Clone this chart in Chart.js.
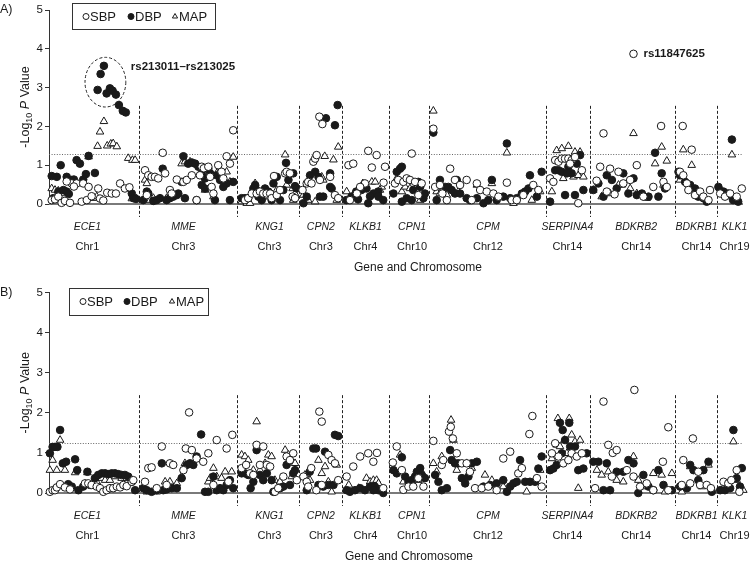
<!DOCTYPE html>
<html><head><meta charset="utf-8">
<script src="https://cdn.jsdelivr.net/npm/chart.js@4/dist/chart.umd.min.js"></script>
<style>
html,body{margin:0;padding:0;background:#fff;}
#wrap{position:relative;width:753px;height:565px;overflow:hidden;}
canvas{position:absolute;left:0;}
</style></head><body>
<div id="wrap">
<canvas id="cA" width="753" height="283" style="top:0"></canvas>
<canvas id="cB" width="753" height="282" style="top:283px"></canvas>
</div>
<script>
// ---------- categories ----------
const genes = ["ECE1","MME","KNG1","CPN2","KLKB1","CPN1","CPM","SERPINA4","BDKRB2","BDKRB1","KLK1"];
const chromosomes = ["Chr1","Chr3","Chr3","Chr3","Chr4","Chr10","Chr12","Chr14","Chr14","Chr14","Chr19"];
// SNP-index where each gene label sits, and boundaries between genes (SNP index)
const geneLabelAt = [12.8,44.8,73.5,90.6,105.5,121,146.3,172.8,195.7,215.8,228.5];
const geneBounds = [30,62.7,83.3,97.7,113.3,126.8,165.6,180.4,208.7,222.5];
const snpMax = 231.3;
const yTicks = [0,1,2,3,4,5];
const seriesNames = ["SBP","DBP","MAP"];
const thresholdA = 1.3, thresholdB = 1.25;

// ---------- Panel A: [SNP index, -log10 P] ----------
const sbpA = [[0.9,0.10],[2,0.12],[3.1,0.19],[4.2,0.03],[5.3,0.08],[7,0.03],[7.6,0.53],[9.2,0.53],[11.4,0.53],[13.2,0.44],[10.9,0.06],[12.6,0.10],[14.2,0.20],[16.4,0.40],[17,0.14],[18.1,0.09],[19.4,0.29],[20.9,0.27],[22.3,0.27],[23.7,0.53],[25.3,0.40],[26.8,0.43],[5.9,0.58],[8.3,0.45],
[32,0.87],[33.1,0.74],[34.2,0.70],[35.3,0.70],[36.4,0.66],[37.9,1.32],[38.7,0.79],[40.3,0.36],[40.9,0.27],[42.6,0.63],[44.8,0.57],[45.9,0.62],[47.6,0.74],[49.2,0.10],[50.3,0.74],[50.9,0.96],[51.6,0.92],[53.1,0.96],[53.7,0.70],[54.2,0.44],[54.8,0.27],[56.4,1.0],[57.5,0.83],[58.1,0.66],[59.2,1.23],[60.3,1.04],[61.4,1.90],[32.6,0.23],
[65.3,0.10],[66.4,0.15],[67.6,0.27],[69.2,0.27],[70.3,0.32],[71.4,0.27],[72.5,0.27],[73.7,0.27],[74.2,0.15],[75,0.72],[75.9,0.23],[77,0.36],[78.7,0.79],[79.2,0.83],[80.3,0.79],[81.2,0.19],[82,0.15],
[90.1,2.25],[91.1,2.06],[85.9,0.53],[86.4,0.57],[87.5,0.53],[88.1,1.09],[88.7,1.17],[89.2,1.26],[93.7,0.70],[95.3,0.23],[96.4,0.15],[90.3,0.62],[84.5,0.36],
[99.8,1.0],[101.4,1.04],[106.4,1.37],[109.2,1.26],[107.6,0.94],[105.3,0.53],[103.7,0.44],[102.6,0.27],[100.3,0.10],[112,0.96],[111.5,0.55],
[115.3,0.53],[116.4,0.62],[118.1,0.57],[119.2,0.66],[120.3,0.62],[120.9,1.30],[122,0.57],[123.1,0.23],[124.2,0.53],
[128.1,1.94],[128.7,0.44],[130.3,0.49],[131.1,0.27],[132.6,0.10],[133.7,0.91],[135.3,0.62],[137,0.49],[139.2,0.62],[140.9,0.10],[142.6,0.53],[143.7,0.36],[145.9,0.32],[148.1,0.27],[149.8,0.19],[152.6,0.55],[154.2,0.10],[155.9,0.10],[158.1,0.23],[161.4,0.49],[163.1,0.36],
[167,0.66],[168.1,0.57],[168.7,1.13],[169.8,1.09],[170.9,1.17],[172,1.17],[173.1,1.17],[174.2,1.13],[175.3,1.21],[176.4,0.02],[177.6,0.87],[173.7,1.04],
[184.8,1.82],[194.8,3.87],[204,2.01],[183.7,0.96],[187,0.91],[189.8,0.83],[195.9,1.0],[185.9,0.32],[191.4,0.53],[193.7,0.62],[198.1,0.19],[201.4,0.44],[204.8,0.57],[205.9,0.44],[182.5,0.60],[188.5,0.25],
[211.2,2.01],[214.2,1.40],[210.3,0.83],[211.4,0.74],[212.6,0.53],[213.1,0.36],[215.3,0.23],[217,0.32],[218.1,0.19],[219.8,0.10],[220.3,0.36],
[223.7,0.27],[225.3,0.19],[227,0.27],[229.2,0.19],[230.9,0.40]];

const dbpA = [[0.9,0.72],[2.6,0.70],[3.9,1.0],[5.9,0.70],[7.6,0.62],[8.3,0.63],[9.2,1.13],[10.3,1.04],[11.4,0.63],[12.3,0.77],[13.2,1.24],[15.3,0.80],[5.9,0.32],[3.1,0.32],[1.4,0.15],[4.8,0.36],[6.6,0.26],[16.2,2.94],[17.2,3.35],[18.3,3.56],[19.2,2.85],[20.3,2.98],[21.2,2.92],[22.3,2.82],[23.3,2.55],[24.6,2.40],[25.6,2.36],[27.6,0.27],[28.1,0.15],[29,0.13],
[31.4,0.10],[32.6,0.32],[33.1,0.27],[34.8,0.08],[35.9,0.10],[37,0.15],[37.9,0.91],[39.2,0.10],[40.3,0.15],[41.4,0.19],[42.6,0.23],[43.1,0.27],[44.2,0.57],[44.8,1.23],[45.3,0.15],[46.4,1.04],[47.6,1.07],[48.7,1.04],[49.2,0.10],[49.8,0.96],[50.9,0.79],[52,0.66],[53.1,0.91],[53.7,0.79],[55.3,0.10],[55.9,0.74],[57,0.62],[58.1,0.44],[59.2,0.53],[60.3,0.10],[61.4,0.57],[50.9,0.49],[52,0.40],
[64.2,0.15],[65.3,0.15],[66.4,0.15],[68.7,0.49],[69.8,0.19],[70.9,0.10],[72,0.40],[73.1,0.32],[74.2,0.10],[74.8,0.53],[75.9,0.70],[77,0.10],[78.1,0.36],[79,1.06],[79.8,0.62],[81.4,0.79],[82,0.46],[82.6,0.40],[69.2,0.36],[68.1,0.40],
[84.8,0.02],[85.9,0.19],[87,0.74],[88.7,0.83],[89.8,0.70],[90.3,0.19],[91.4,0.19],[93.7,0.44],[94.2,0.40],[93.7,0.79],[92.3,2.21],[95.3,2.03],[96.2,2.55],
[99.1,0.10],[100.8,0.19],[102.4,0.32],[104.1,0.36],[105.8,0.40],[106.4,0.02],[108.1,0.27],[109.7,0.32],[109.8,0.19],[111.4,0.10],[103,0.12],[107,0.20],
[115.9,0.83],[117,0.91],[117.6,0.96],[114.8,0.27],[117.6,0.06],[119.2,0.15],[120.9,0.10],[121.4,0.36],[123.1,0.57],[123.7,0.44],[124.8,0.15],[125.3,0.27],
[128.1,1.84],[129.2,0.10],[130.3,0.62],[132,0.44],[133.1,0.44],[134.2,0.36],[135.3,0.27],[135.9,0.62],[137,0.27],[139.2,0.15],[140.3,0.10],[142.6,0.15],[144.8,0.02],[146.4,0.10],[147.6,0.62],[149.2,0.10],[151.4,0.19],[152.6,1.56],[153.7,0.15],[155.9,0.15],[157.6,0.27],[158.7,0.32],[159.8,0.40],[160.3,0.74],[162.6,0.19],[164.2,0.83],
[167,0.06],[168.7,0.87],[169.8,0.87],[170.9,0.83],[172,0.23],[173.1,0.96],[174.2,0.79],[175.3,0.23],[175.9,1.04],[177,1.26],[178.1,0.36],[172.6,0.79],
[181.4,0.36],[183.1,0.53],[184.8,0.19],[185.9,0.74],[187.6,0.62],[189.2,0.40],[191.4,0.79],[193.1,0.27],[194.8,0.66],[195.9,0.23],[197.6,0.27],[199.8,0.19],[202,1.32],[203.1,0.19],[204.2,0.79],[205.3,0.40],
[209.8,0.83],[210.3,0.74],[212,0.57],[213.7,0.49],[215.3,0.40],[216.4,0.19],[218.1,0.15],[219.2,0.06],
[227.6,1.66],[223.1,0.44],[224.8,0.32],[226.3,0.27],[228,0.10],[229.7,0.06]];

const mapA = [[0.9,0.40],[2,0.36],[3.1,0.34],[5.3,0.27],[14.8,0.15],[15.9,0.19],[16.2,1.49],[17,1.86],[18.3,2.13],[19.4,1.50],[20.6,1.55],[21.4,1.56],[22.6,1.48],[26.4,1.18],[27.8,1.13],[28.7,1.13],[27.6,0.14],[29.2,0.14],[13.2,1.22],
[32,0.62],[32.6,0.53],[33.7,0.10],[34.8,0.15],[39.2,0.15],[44.2,1.04],[45.3,1.09],[47,1.09],[54.8,0.19],[55.9,0.79],[57.5,0.70],[59.2,0.83],[60.3,0.57],[61.4,1.21],[52,0.36],
[64.2,0.06],[65.9,0.02],[67,0.02],[68.7,0.53],[71.4,0.19],[72.5,0.19],[75.9,0.36],[78.7,1.27],[79.2,0.49],[81.2,0.40],[82,0.27],[81.4,0.10],
[84.8,0.23],[86.4,0.10],[88.7,0.06],[91.4,0.62],[91.9,1.23],[94.8,1.14],[96.4,1.47],[95.9,0.10],[90.9,0.70],
[99.2,0.32],[101.4,0.23],[104.6,0.53],[107.6,0.57],[108.7,0.57],[110.9,0.44],[110.3,0.36],
[117.6,0.32],[118.7,0.44],[120.3,0.40],[123.7,0.10],[115.9,0.66],
[128.1,2.40],[129.2,0.32],[130.3,0.27],[132.6,0.23],[136.4,0.32],[142.6,0.49],[147.6,0.53],[152.6,1.32],[154.8,0.02],[160.9,0.10],[163.7,0.32],
[167.6,0.32],[169.2,1.38],[170.9,1.43],[173.1,1.49],[171.4,0.66],[174.8,0.70],[176.4,0.74],[178.1,0.70],[175.3,1.34],[177,1.34],
[194.8,1.82],[181.4,0.36],[184.2,0.19],[187,0.27],[189.8,0.49],[190.9,0.49],[193.7,0.40],[195.9,0.27],[199.2,0.15],[202,1.04],[204.2,1.47],[205.9,1.11],[204.8,0.49],
[210.3,0.62],[214.2,1.0],[211.4,1.40],[217,0.27],
[227.6,1.27],[223.7,0.40],[225.8,0.19],[228.6,0.15]];

// ---------- Panel B ----------
const sbpB = [[0.3,0.03],[1.2,0.07],[2,0.07],[2.6,0.14],[3.7,0.22],[5.3,0.14],[7,0.09],[12,0.24],[13.1,0.24],[14.2,0.20],[15.9,0.16],[17,0.12],[18.1,0.03],[19.2,0.07],[20.3,0.12],[21.4,0.12],[22.6,0.16],[23.7,0.14],[24.8,0.20],[25.9,0.17],[27.6,0.28],[28.1,0.32],
[32,0.28],[33.1,0.62],[34.2,0.64],[37.6,1.16],[40.3,0.74],[41.4,0.70],[44.8,0.57],[46.7,2.01],[45.6,1.11],[47.6,1.07],[49.2,0.86],[51.4,0.78],[53.1,0.99],[55.9,1.32],[59.2,1.11],[61.1,1.45],[54.8,0.20],[59.8,0.28],[35.9,0.12],[39.2,0.20],
[64.2,0.62],[65.7,0.70],[67,0.49],[69.2,1.20],[71.4,1.16],[70.3,0.70],[72.6,0.70],[73.7,0.66],[75.3,0.03],[76.4,0.12],[78.1,0.41],[79.2,0.91],[80.3,0.82],[81.4,0.99],[82.6,0.32],[68.1,0.45],
[90.1,2.03],[90.9,1.78],[84.8,0.41],[85.9,0.28],[87.4,0.62],[89.1,0.07],[90.9,0.20],[93.1,0.95],[94.2,0.82],[95.3,0.74],[96.4,0.32],[86.4,0.16],
[99.2,0.41],[101.4,0.66],[103.7,0.91],[106.4,0.99],[108.1,0.78],[109.3,1.0],[111.4,0.12],
[114.6,0.76],[115.9,1.16],[118.1,0.08],[119.8,0.16],[121.4,0.16],[123.1,0.37],[124.8,0.16],[117.6,0.57],
[128.1,1.30],[130.9,0.70],[131.4,0.82],[133.3,1.53],[133.9,1.65],[134.6,1.36],[135.9,0.99],[137.6,0.74],[139.2,0.74],[140.3,0.53],[142,0.12],[144.2,0.12],[146.4,0.16],[149.2,0.07],[151.4,0.86],[153.7,1.03],[156.4,0.49],[157.6,0.62],[160.1,1.47],[161.1,1.92],[162.6,0.37],[164.2,0.16],
[168.7,1.24],[169.8,0.91],[171.4,0.74],[173.1,0.82],[174.2,0.99],[175.9,0.91],[177.6,0.99],[167.6,0.99],
[184.8,2.28],[195.1,2.57],[206.4,1.64],[182,0.12],[186.4,1.20],[187.9,1.0],[189.2,1.07],[192.6,0.57],[194.8,0.41],[197,0.16],[199.2,0.24],[201.4,0.07],[204.6,0.78],[206.4,0.07],[187.6,0.41],
[211.4,0.82],[214.6,1.36],[210.9,0.20],[213.7,0.24],[217,0.20],[219.2,0.20],[220.6,0.12],[216.4,0.53],
[224.8,0.28],[226.4,0.24],[229.2,0.57],[230.1,0.03],[227.4,0.32]];

const dbpB = [[0.3,0.99],[1.2,1.15],[2,1.15],[2.8,1.15],[3.7,1.57],[4.6,0.74],[5.7,0.78],[8.7,0.84],[9.4,0.57],[12.8,0.53],[6.4,0.22],[7.6,0.16],[9.8,0.07],[11.4,0.16],[13.7,0.20],[15.3,0.37],[16.4,0.45],[17.6,0.49],[18.7,0.49],[19.8,0.47],[20.9,0.49],[22,0.49],[23.1,0.47],[24.2,0.45],[25.3,0.45],[26.4,0.41],[27.6,0.28],[28.7,0.07],
[31.4,0.12],[32.6,0.07],[34.2,0.03],[35.9,0.07],[37.6,0.74],[38.1,0.07],[39.2,0.09],[40.9,0.12],[42.6,0.12],[44.2,0.37],[45.9,0.70],[47,0.74],[48.1,0.70],[49.2,0.91],[50.7,1.46],[52,0.03],[53.1,0.03],[54.8,0.41],[55.9,0.07],[57,0.12],[58.1,0.07],[59.2,0.20],[60.3,0.32],[61.4,0.12],
[64.2,0.49],[65.3,0.49],[66.4,0.45],[67.2,0.12],[68.1,0.28],[69.2,1.07],[70.3,0.45],[71.4,0.32],[72.6,0.49],[74.2,0.32],[74.8,0.03],[77,0.12],[78.1,0.16],[79.2,0.70],[80.3,0.20],[81.4,0.49],[82,0.57],
[86.9,0.53],[88.1,1.11],[89,1.11],[89.8,0.20],[91.4,0.16],[92,1.03],[93.1,0.20],[94.8,0.20],[95.3,1.45],[96.4,1.42],[85.9,0.07],
[99.2,0.07],[100.3,0.03],[102,0.07],[103.7,0.12],[105.3,0.07],[107,0.16],[108.6,0.16],[109.8,0.07],[108.1,0.07],[111.4,0.0],
[114.8,0.57],[115.9,0.49],[117.6,0.89],[118.7,0.41],[119.8,0.28],[120.9,0.32],[122,0.41],[122.6,0.53],[123.7,0.62],[124.2,0.45],[125.3,0.37],
[128.7,0.45],[129.8,0.28],[130.9,0.07],[132.6,0.12],[133.7,1.07],[134.2,0.82],[135.3,0.74],[136.4,0.74],[137.6,0.37],[138.7,0.24],[139.8,0.41],[140.9,0.74],[142.6,0.78],[144.8,0.16],[147,0.20],[149.2,0.24],[151.4,0.32],[152.6,0.03],[153.7,0.16],[154.8,0.24],[155.9,0.28],[157,0.82],[158.7,0.28],[160.3,0.28],[162,0.28],[163.1,0.61],[164.2,0.91],
[170.3,1.75],[171.2,1.57],[173.4,1.75],[172,1.32],[173.7,1.16],[167,0.57],[168.1,0.61],[169.2,0.70],[170.9,0.99],[175.3,1.16],[176.4,0.57],[178.1,0.61],[179.2,0.99],
[181.4,0.78],[183.1,0.78],[185.9,0.74],[184.8,0.07],[187,0.07],[189.2,0.53],[191.4,0.53],[193.1,0.82],[194.8,0.74],[196.4,0.0],[198.1,0.45],[199.8,0.16],[201.4,0.07],[203.1,0.57],[204.8,0.20],[207.6,0.07],
[213.7,0.70],[214.8,0.57],[216.4,0.32],[218.1,0.57],[219.8,0.78],[210.3,0.16],[212.6,0.12],[220.9,0.03],
[228.1,1.57],[230.9,0.62],[223.7,0.07],[225.3,0.07],[227,0.12],[229.2,0.37],[230.3,0.16]];

const mapB = [[0.3,0.57],[1.2,0.82],[3.7,1.32],[2.6,0.57],[5.3,0.57],[8.7,0.51],[12.8,0.51],[15.9,0.28],[17.6,0.37],[18.7,0.32],[20.3,0.32],[22,0.41],[24.2,0.37],[25.9,0.37],[27.6,0.32],
[32.6,0.03],[35.9,0.03],[38.7,0.28],[40.3,0.28],[42.6,0.24],[44.2,0.41],[45.3,0.74],[47.6,0.70],[53.1,0.28],[53.7,0.37],[54.8,0.62],[55.9,0.41],[57.5,0.37],[58.7,0.53],[60.9,0.53],
[69.2,1.78],[64.2,0.95],[65.3,0.91],[66.4,0.82],[68.1,0.57],[70.3,0.57],[72,0.74],[73.1,0.95],[74.2,0.91],[75.3,0.32],[77,0.28],[78.7,1.07],[79.8,0.95],[80.9,0.41],[82,0.74],
[85.3,0.45],[87,0.32],[89.8,0.82],[90.9,0.49],[92,0.66],[93.1,0.28],[95.9,0.70],[94.2,0.03],
[99.9,0.20],[103.2,0.12],[105.8,0.37],[107,0.28],[108.1,0.32],[109.2,0.32],[109.8,0.24],
[117,0.95],[118.1,0.28],[120.3,0.24],[123.1,0.32],[124.8,0.45],
[128.1,0.74],[129.2,0.53],[130.9,0.91],[134,1.82],[134.8,1.32],[135.9,0.57],[139.2,0.74],[140.9,0.62],[145.3,0.45],[147.6,0.32],[151.4,0.16],[159.2,0.03],[163.7,0.57],
[169.6,1.86],[173.4,1.86],[171.8,1.32],[174.2,1.45],[175.3,1.28],[177,1.32],[167.6,0.86],[169.2,1.20],[170.3,1.16],[176.4,0.12],[172.6,0.99],
[182.6,0.57],[184.2,0.45],[186.4,0.53],[189.2,0.32],[191.4,0.28],[194.8,0.91],[196.4,0.32],[199.2,0.16],[201.4,0.49],[204.2,0.45],[205.3,0.03],[207.6,0.49],
[210.9,0.03],[213.7,0.66],[219.8,0.70],[217.6,0.16],
[228.1,1.28],[224.1,0.07],[225.8,0.24],[229.2,0.32],[231.4,0.07]];

// annotations (data coordinates)
const clusterLabel = "rs213011\u2013rs213025";
const clusterCenter = [18.8, 3.14];
const clusterRadius = [6.8, 0.64];
const snpLabel = "rs11847625";
const snpLabelAt = [194.8, 3.87];

// ---------- drawing ----------
const FONT = "'Liberation Sans', Arial, Helvetica, sans-serif";
const INK = "#1a1a1a";
const styles = [
  {pointStyle:'circle', backgroundColor:'#ffffff', borderColor:INK, radius:3.8},
  {pointStyle:'circle', backgroundColor:INK, borderColor:INK, radius:3.8},
  {pointStyle:'triangle', backgroundColor:'#ffffff', borderColor:INK, radius:4.4}
];

function toXY(arr){ return arr.map(p => ({x:p[0], y:p[1]})); }

function panelPlugin(cfg){
  return {
    id:'panel'+cfg.letter,
    beforeDatasetsDraw(chart){
      const ctx = chart.ctx, xs = chart.scales.x, ys = chart.scales.y, ca = chart.chartArea;
      ctx.save();
      // threshold dotted line
      ctx.strokeStyle = '#666'; ctx.lineWidth = 1; ctx.setLineDash([1,1.6]);
      const ty = Math.round(ys.getPixelForValue(cfg.threshold)) + 0.5;
      ctx.beginPath(); ctx.moveTo(ca.left, ty); ctx.lineTo(ca.right, ty); ctx.stroke();
      // gene separators
      ctx.strokeStyle = '#222'; ctx.setLineDash([3,2]);
      const top = ys.getPixelForValue(cfg.sepTop);
      geneBounds.forEach(b => {
        const x = Math.round(xs.getPixelForValue(b)) + 0.5;
        ctx.beginPath(); ctx.moveTo(x, top); ctx.lineTo(x, ca.bottom + 13); ctx.stroke();
      });
      ctx.setLineDash([]);
      // baseline
      ctx.strokeStyle = '#7a7a7a'; ctx.lineWidth = 2;
      const by = ys.getPixelForValue(0);
      ctx.beginPath(); ctx.moveTo(ca.left, by); ctx.lineTo(ca.right, by); ctx.stroke();
      ctx.restore();
    },
    afterDraw(chart){
      const ctx = chart.ctx, xs = chart.scales.x, ys = chart.scales.y, ca = chart.chartArea;
      ctx.save();
      ctx.fillStyle = INK; ctx.textBaseline = 'middle'; ctx.textAlign = 'center';
      // gene + chromosome labels
      genes.forEach((g,i) => {
        const x = xs.getPixelForValue(geneLabelAt[i]);
        ctx.font = 'italic 10.5px ' + FONT;
        ctx.fillText(g, x, ca.bottom + 23.5);
        ctx.font = '11px ' + FONT;
        ctx.fillText(chromosomes[i], x, ca.bottom + 42.5);
      });
      ctx.font = '12px ' + FONT;
      ctx.fillText('Gene and Chromosome', cfg.xTitleX, ca.bottom + 64);
      // panel letter
      ctx.textAlign = 'left';
      ctx.font = '12.5px ' + FONT;
      ctx.fillText(cfg.letter + ')', 0, 10);
      // y title
      ctx.save();
      const cy = (ca.top + ca.bottom)/2;
      ctx.translate(26, cy); ctx.rotate(-Math.PI/2);
      const parts = [
        {t:'-Log', f:'12.5px '+FONT, dy:0},
        {t:'10', f:'9px '+FONT, dy:4},
        {t:' ', f:'12.5px '+FONT, dy:0},
        {t:'P', f:'italic 12.5px '+FONT, dy:0},
        {t:' Value', f:'12.5px '+FONT, dy:0}
      ];
      let w = 0; parts.forEach(p => { ctx.font = p.f; p.w = ctx.measureText(p.t).width; w += p.w; });
      let x0 = -w/2;
      parts.forEach(p => { ctx.font = p.f; ctx.fillText(p.t, x0, p.dy); x0 += p.w; });
      ctx.restore();
      // legend
      const L = cfg.legend;
      ctx.strokeStyle = '#333'; ctx.lineWidth = 1;
      ctx.strokeRect(L.box[0]+0.5, L.box[1]+0.5, L.box[2], L.box[3]);
      ctx.font = '13px ' + FONT;
      seriesNames.forEach((n,i) => {
        const s = styles[i];
        ctx.fillStyle = s.backgroundColor; ctx.strokeStyle = s.borderColor; ctx.lineWidth = 1;
        Chart.helpers.drawPoint(ctx, {pointStyle:s.pointStyle, radius:3, rotation:0, borderWidth:1}, L.sym[i], L.cy);
        ctx.fillStyle = INK;
        ctx.fillText(n, L.sym[i] + 4, L.cy + 0.5);
      });
      // annotations
      if (cfg.annotate) {
        ctx.strokeStyle = '#222'; ctx.lineWidth = 1; ctx.setLineDash([3,2]);
        const ex = xs.getPixelForValue(clusterCenter[0]), ey = ys.getPixelForValue(clusterCenter[1]);
        const rx = xs.getPixelForValue(clusterCenter[0] + clusterRadius[0]) - ex;
        const ry = ey - ys.getPixelForValue(clusterCenter[1] + clusterRadius[1]);
        ctx.beginPath(); ctx.ellipse(ex, ey, rx, ry, 0, 0, Math.PI*2); ctx.stroke();
        ctx.setLineDash([]);
        ctx.fillStyle = INK; ctx.font = 'bold 11.5px ' + FONT; ctx.textAlign = 'left';
        ctx.fillText(clusterLabel, ex + rx + 5, ys.getPixelForValue(3.54));
        ctx.fillText(snpLabel, xs.getPixelForValue(snpLabelAt[0]) + 10, ys.getPixelForValue(snpLabelAt[1]));
      }
      ctx.restore();
    }
  };
}

function makeChart(id, sets, cfg){
  const datasets = sets.map((d,i) => ({
    label: seriesNames[i],
    data: toXY(d),
    pointStyle: styles[i].pointStyle,
    pointRadius: styles[i].radius,
    pointBackgroundColor: styles[i].backgroundColor,
    pointBorderColor: styles[i].borderColor,
    pointBorderWidth: 1,
    showLine: false,
    clip: false,
    order: i
  }));
  return new Chart(document.getElementById(id), {
    type:'scatter',
    data:{datasets},
    options:{
      responsive:false, animation:false, devicePixelRatio:1,
      layout:{padding:{left:0, right:10, top:cfg.padTop, bottom:cfg.padBottom}},
      plugins:{legend:{display:false}, tooltip:{enabled:false}},
      scales:{
        x:{type:'linear', min:0, max:snpMax, display:false},
        y:{type:'linear', min:0, max:5,
           afterFit(s){ s.width = 49; },
           afterBuildTicks(s){ s.ticks = yTicks.map(v => ({value:v})); },
           grid:{display:true, drawOnChartArea:false, drawTicks:true, tickLength:4, color:'#333'},
           border:{display:true, color:'#333', width:1},
           ticks:{font:{family:FONT, size:11.5}, color:INK, padding:2}
        }
      }
    },
    plugins:[panelPlugin(cfg)]
  });
}

makeChart('cA', [sbpA, dbpA, mapA], {
  letter:'A', threshold:thresholdA, sepTop:2.53, padTop:10, padBottom:79, xTitleX:418, annotate:true,
  legend:{box:[72,3,143,26], sym:[86,131,175], cy:16.5}
});
makeChart('cB', [sbpB, dbpB, mapB], {
  letter:'B', threshold:thresholdB, sepTop:2.44, padTop:9.5, padBottom:72, xTitleX:409, annotate:false,
  legend:{box:[69,5,139,27], sym:[83,127,172], cy:18.5}
});
</script>
</body></html>
